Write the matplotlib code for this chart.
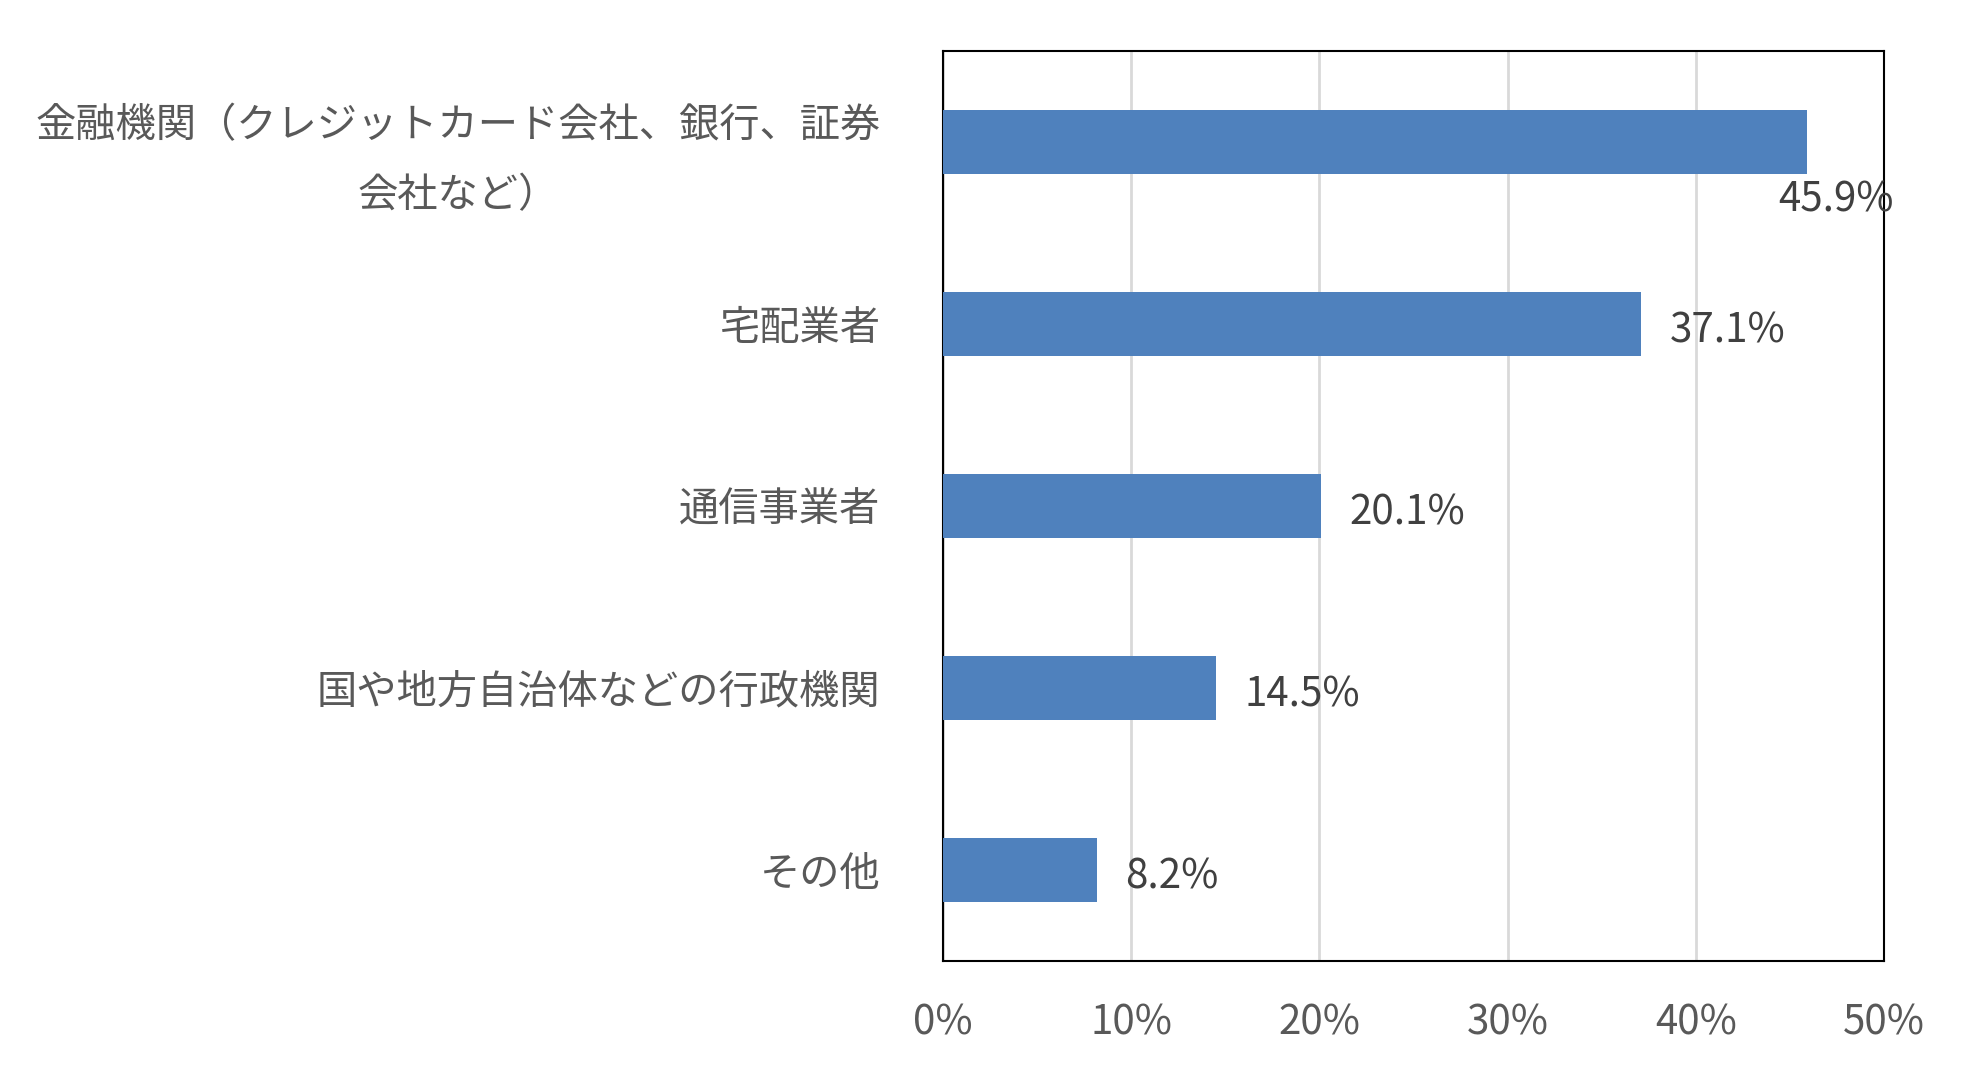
import matplotlib
matplotlib.use("Agg")
import matplotlib.pyplot as plt

plt.rcParams['font.family'] = ['Noto Sans CJK JP', 'DejaVu Sans']

categories = ["金融機関（クレジットカード会社、銀行、証券\n会社など）", "宅配業者", "通信事業者",
              "国や地方自治体などの行政機関", "その他"]
values = [45.9, 37.1, 20.1, 14.5, 8.2]
xticks = [0, 10, 20, 30, 40, 50]

fig = plt.figure(figsize=(19.77, 10.82), dpi=100)
ax = fig.add_axes([0.477, 0.112, 0.476, 0.841])
ys = list(range(len(categories)))
ax.barh(ys, values, height=0.35, color='#4F81BD', zorder=3)
ax.set_ylim(len(categories) - 0.5, -0.5)
ax.set_xlim(0, 50)
ax.set_xticks(xticks)
ax.set_xticklabels([f"{t}%" for t in xticks], fontsize=29, color='#595959')
ax.set_yticks(ys)
ax.set_yticklabels(categories, fontsize=29, color='#595959', multialignment='center', linespacing=1.9)
ax.tick_params(length=0, pad=30)
ax.tick_params(axis='y', pad=45)
ax.xaxis.grid(True, color='#D9D9D9', linewidth=2, zorder=0)
for s in ax.spines.values():
    s.set_color('black'); s.set_linewidth(1.5)
for i, v in enumerate(values):
    if v > 45:
        ax.text(v - 1.5, i + 0.32, f"{v}%", fontsize=29, color='#404040', va='center', ha='left')
    else:
        ax.text(v + 1.5, i + 0.04, f"{v}%", fontsize=29, color='#404040', va='center', ha='left')
fig.savefig("out.png", dpi=100)
